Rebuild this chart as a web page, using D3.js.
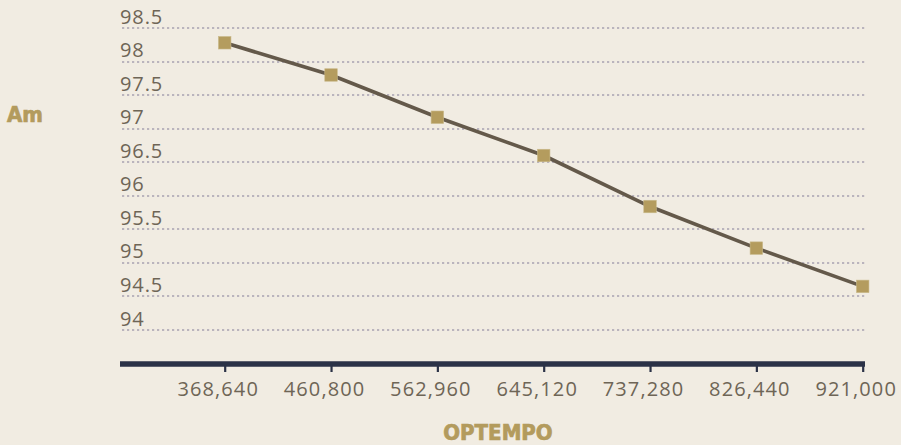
<!DOCTYPE html>
<html><head><meta charset="utf-8">
<script src="https://cdn.jsdelivr.net/npm/d3@7"></script>
<style>
html,body{margin:0;padding:0;background:#f1ece2;}
svg{display:block;}
</style></head><body>
<svg id="chart" width="901" height="445"></svg>
<script>
const categories = ["368,640","460,800","562,960","645,120","737,280","826,440","921,000"];
const values = [98.28, 97.80, 97.17, 96.60, 95.84, 95.22, 94.65];
const yTicks = [94, 94.5, 95, 95.5, 96, 96.5, 97, 97.5, 98, 98.5];
const yTickLabels = ["94","94.5","95","95.5","96","96.5","97","97.5","98","98.5"];
const xTitle = "OPTEMPO";
const yTitle = "Am";

const svg = d3.select("#chart");
const W = 901, H = 445;
svg.append("rect").attr("width",W).attr("height",H).attr("fill","#f1ece2");

const plotLeft = 121, plotRight = 865;
const x = d3.scalePoint().domain(categories).range([224.7, 862.7]);
const y = d3.scaleLinear().domain([94, 98.5]).range([330, 28]);

const labelFont = "'Open Sans', sans-serif";
const textColor = "#6e6556";

// gridlines
svg.append("g").selectAll("line").data(yTicks).join("line")
  .attr("x1", plotLeft+1).attr("x2", plotRight)
  .attr("y1", d=>Math.round(y(d))).attr("y2", d=>Math.round(y(d)))
  .attr("stroke","#bab4bd").attr("stroke-width",2.2)
  .attr("stroke-dasharray","2.2,2.8");

// y tick labels
svg.append("g").selectAll("text").data(yTicks).join("text")
  .attr("x", plotLeft-1).attr("y", d=>y(d)-4.5)
  .attr("font-family", labelFont).attr("font-size", 20)
  .attr("letter-spacing", 0.9)
  .attr("fill", textColor)
  .text((d,i)=>yTickLabels[i]);

// x axis
const axisY = 364;
const xAxis = d3.axisBottom(x).tickSize(8).tickPadding(14);
const gx = svg.append("g").attr("transform",`translate(0,${axisY})`).call(xAxis);
gx.select(".domain").remove();
gx.insert("line", ":first-child").attr("x1", plotLeft-1).attr("x2", plotRight)
  .attr("y1",0).attr("y2",0).attr("stroke","#2b3247").attr("stroke-width",5.5);
gx.selectAll(".tick line").attr("stroke","#2b3247").attr("stroke-width",2.2);
gx.selectAll(".tick text")
  .attr("font-family", labelFont).attr("font-size", 20)
  .attr("letter-spacing", 1.1)
  .attr("fill", textColor).attr("dx", -7).attr("dy", "0.5em");

// line
const line = d3.line().x((d,i)=>x(categories[i])).y(d=>y(d));
svg.append("path").datum(values)
  .attr("d", line).attr("fill","none")
  .attr("stroke","#64594a").attr("stroke-width",3.6);

// markers
const s = 12.5;
svg.append("g").selectAll("rect").data(values).join("rect")
  .attr("x",(d,i)=>x(categories[i])-s/2).attr("y",d=>y(d)-s/2)
  .attr("width",s).attr("height",s)
  .attr("fill","#b49c5e").attr("stroke","#c9b98a").attr("stroke-width",0.6);

// titles
const titleFont = "'DejaVu Sans Condensed', 'DejaVu Sans', sans-serif";
svg.append("text").attr("x", 7).attr("y", 121.5)
  .attr("font-family",titleFont).attr("font-weight","bold").attr("font-stretch","condensed")
  .attr("font-size", 22).attr("fill","#b39b5d")
  .attr("stroke","#b39b5d").attr("stroke-width",0.7).text(yTitle);
svg.append("text").attr("x", 498).attr("y", 439.5).attr("text-anchor","middle")
  .attr("font-family",titleFont).attr("font-weight","bold").attr("font-stretch","condensed")
  .attr("font-size", 22).attr("fill","#b39b5d")
  .attr("stroke","#b39b5d").attr("stroke-width",0.7).text(xTitle);
</script>
</body></html>
